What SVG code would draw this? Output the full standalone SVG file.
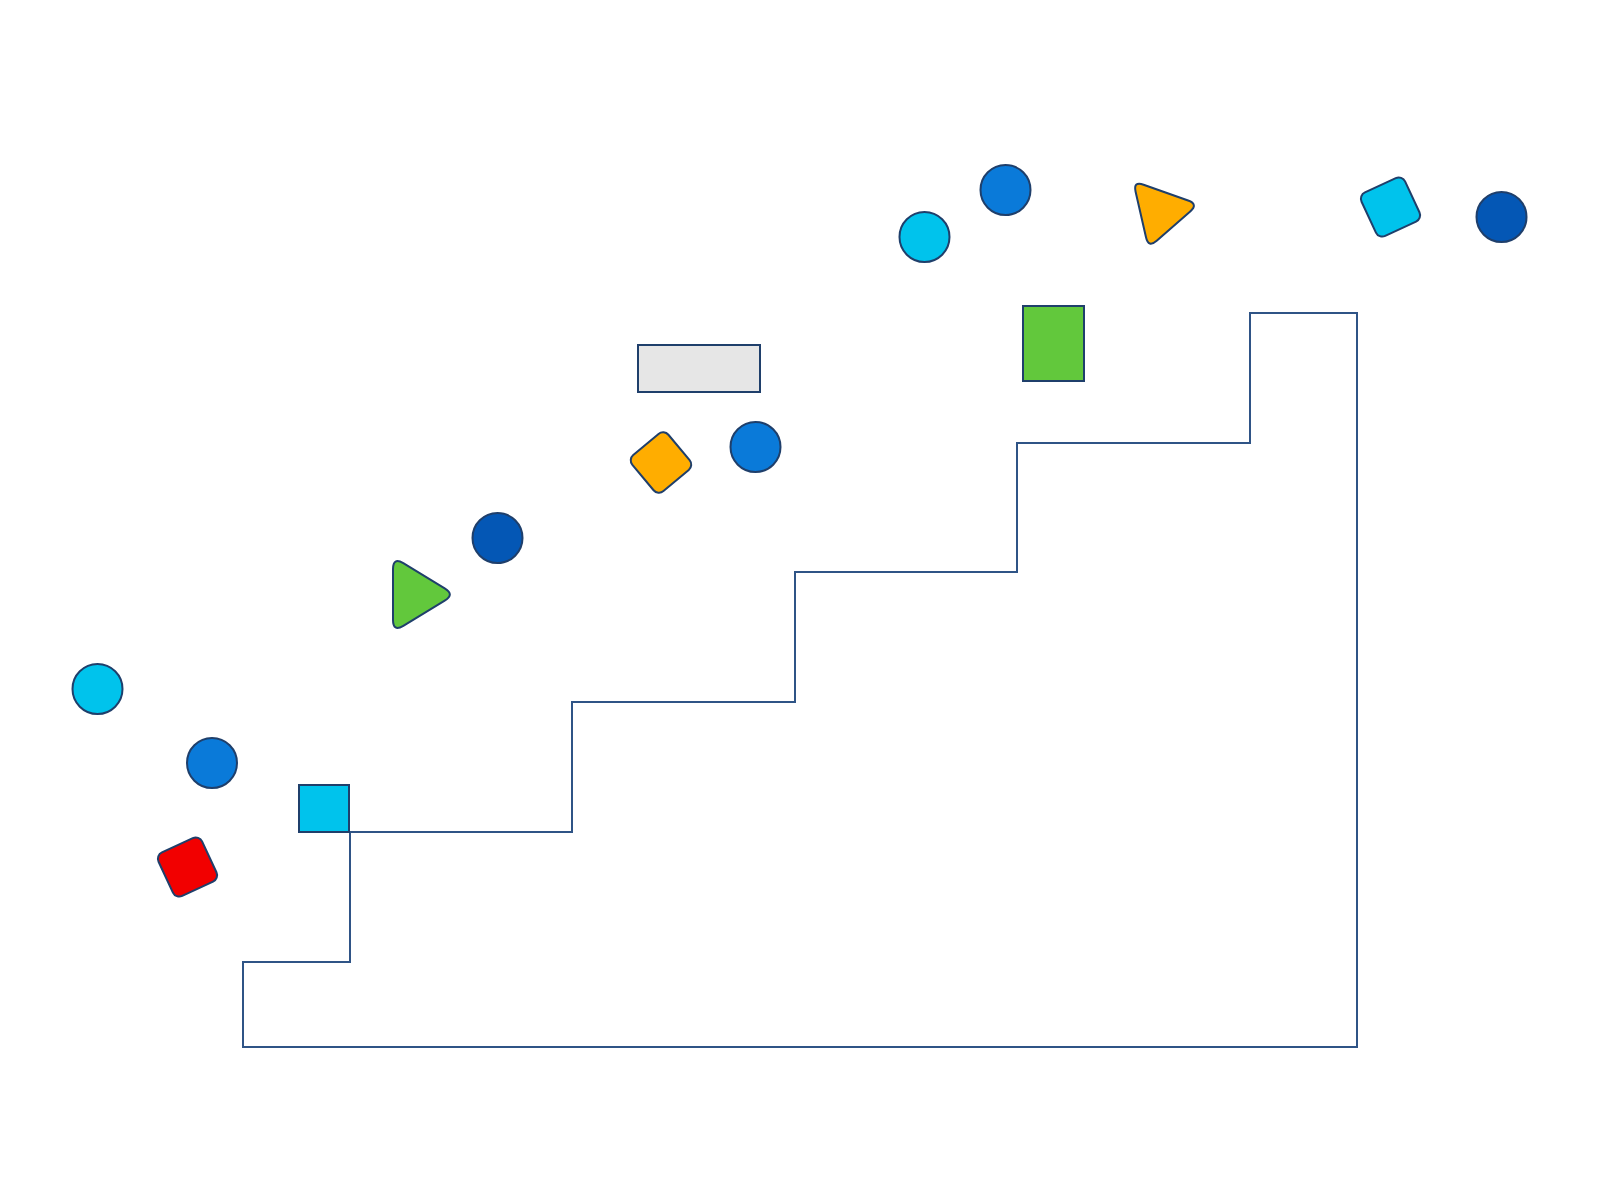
<svg xmlns="http://www.w3.org/2000/svg" width="1600" height="1200" viewBox="0 0 1600 1200">
<style>
.s{stroke:#1f3f6b;stroke-width:2;}
.cyan{fill:#00c3ec;}
.blue{fill:#0a7ad9;}
.dblue{fill:#0457b5;}
.green{fill:#62c83c;}
.orange{fill:#ffad00;}
.red{fill:#f20000;}
.gray{fill:#e6e6e6;}
.stair{fill:none;stroke:#2f5486;stroke-width:2;}
</style>
<rect width="1600" height="1200" fill="#ffffff"/>
<g id="connectors">
<path id="stairs" class="stair" d="M 243,962 L 243,1047 L 1357,1047 L 1357,313 L 1250,313 L 1250,443 L 1017,443 L 1017,572 L 795,572 L 795,702 L 572,702 L 572,832 L 350,832 L 350,962 Z"/>
</g>
<g id="n-circle1"><circle class="s cyan" cx="97.5" cy="689" r="25"/></g>
<g id="n-circle2"><circle class="s blue" cx="212" cy="763" r="25"/></g>
<g id="n-red"><rect class="s red" x="-24" y="-24" width="48" height="48" rx="7" transform="translate(187.5 867) rotate(-25)"/></g>
<g id="n-square"><rect class="s cyan" x="299" y="785" width="50" height="47"/></g>
<g id="n-green-tri"><path class="s green" d="M 393,569 Q 393,557 403.3,563.2 L 444.7,588.3 Q 455,594.5 444.7,600.7 L 403.3,625.8 Q 393,632 393,620 Z"/></g>
<g id="n-circle3"><circle class="s dblue" cx="497.5" cy="538" r="25"/></g>
<g id="n-diamond"><rect class="s orange" x="-23.5" y="-23.5" width="47" height="47" rx="7" transform="translate(661 462.5) rotate(50)"/></g>
<g id="n-gray"><rect class="s gray" x="638" y="345" width="122" height="47"/></g>
<g id="n-circle4"><circle class="s blue" cx="755.5" cy="447" r="25"/></g>
<g id="n-circle5"><circle class="s cyan" cx="924.5" cy="237" r="25"/></g>
<g id="n-circle6"><circle class="s blue" cx="1005.5" cy="190" r="25"/></g>
<g id="n-green-rect"><rect class="s green" x="1023" y="306" width="61" height="75"/></g>
<g id="n-orange-tri"><path class="s orange" d="M 1135.6,191.7 Q 1133.2,181 1143.6,184.7 L 1188.1,200.5 Q 1198.5,204.2 1190.2,211.4 L 1156.7,240.8 Q 1148.4,248 1146,237.3 Z"/></g>
<g id="n-cyan-diamond"><rect class="s cyan" x="-24" y="-24" width="48" height="48" rx="7" transform="translate(1390.5 207) rotate(-25)"/></g>
<g id="n-circle7"><circle class="s dblue" cx="1501.5" cy="217" r="25"/></g>
</svg>
